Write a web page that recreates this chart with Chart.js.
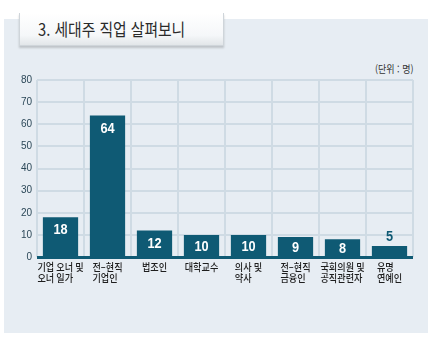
<!DOCTYPE html>
<html lang="ko">
<head>
<meta charset="utf-8">
<script src="https://cdn.jsdelivr.net/npm/chart.js@4.4.1/dist/chart.umd.min.js"></script>
<style>
  html, body { margin: 0; padding: 0; background: #fff; }
  body { width: 433px; height: 341px; position: relative; overflow: hidden; font-family: "Noto Sans CJK KR", sans-serif; }
  .panel { position: absolute; left: 4px; top: 19px; width: 424px; height: 314px; background: #e7edf3; }
  .tab {
    position: absolute; left: 19px; top: 13px; width: 203px; height: 32px;
    background: linear-gradient(#ffffff, #f5f7f9 70%, #e2e6e9);
    border: 1px solid #cfd5da; border-top: none;
    box-shadow: 0 2px 2px rgba(0,0,0,0.18);
  }
  .tab span {
    position: absolute; left: 18px; top: 3px; font-size: 17px; color: #2a2a2a;
    white-space: nowrap; transform: scaleX(0.87); transform-origin: left center;
  }
  .unit {
    position: absolute; left: 375px; top: 61px; font-size: 10px; color: #333;
    white-space: nowrap; transform: scaleX(0.9); transform-origin: left center;
  }
  #wrap { position: absolute; left: 0; top: 0; width: 433px; height: 341px; }
</style>
</head>
<body>
<div class="panel"></div>
<div class="tab"><span>3. 세대주 직업 살펴보니</span></div>
<div class="unit">(단위 : 명)</div>
<div id="wrap"><canvas id="chart"></canvas></div>
<script>
const jobLabels = [
  ['기업 오너 및', '오너 일가'],
  ['전–현직', '기업인'],
  ['법조인'],
  ['대학교수'],
  ['의사 및', '약사'],
  ['전–현직', '금융인'],
  ['국회의원 및', '공직관련자'],
  ['유명', '연예인']
];
const headCounts = [18, 64, 12, 10, 10, 9, 8, 5];
const yTicks = [0, 10, 20, 30, 40, 50, 60, 70, 80];

const barColor = '#0f5a74';

// 가로로 좁힌 글자 그리기
function narrowText(ctx, text, x, y, sx) {
  ctx.save();
  ctx.translate(x, y);
  ctx.scale(sx, 1);
  ctx.fillText(text, 0, 0);
  ctx.restore();
}

// 막대 값 표시 + 여러 줄 라벨 + 바닥선
const decorPlugin = {
  id: 'decor',
  afterDatasetsDraw(chart) {
    const ctx = chart.ctx;
    const area = chart.chartArea;
    const meta = chart.getDatasetMeta(0);
    ctx.save();
    ctx.fillStyle = barColor;
    ctx.fillRect(area.left, area.bottom - 1, area.right - area.left, 3);

    ctx.font = 'bold 15px "Liberation Sans", sans-serif';
    ctx.textAlign = 'center';
    ctx.textBaseline = 'middle';
    meta.data.forEach((bar, i) => {
      const v = headCounts[i];
      const h = bar.base - bar.y;
      if (h > 14) {
        ctx.fillStyle = '#ffffff';
        narrowText(ctx, v, bar.x, bar.y + Math.min(13, h / 2 + 1), 0.85);
      } else {
        ctx.fillStyle = barColor;
        narrowText(ctx, v, bar.x, bar.y - 9, 0.85);
      }
    });

    // x축 라벨: 블록은 가운데, 줄은 왼쪽 정렬
    const xs = chart.scales.x;
    const sx = 0.87;
    ctx.font = '500 10.5px "Noto Sans CJK KR", sans-serif';
    ctx.fillStyle = '#1e1e1e';
    ctx.textAlign = 'left';
    ctx.textBaseline = 'alphabetic';
    jobLabels.forEach((lines, i) => {
      const cx = xs.getPixelForTick(i);
      const w = Math.max(...lines.map(l => ctx.measureText(l).width)) * sx;
      lines.forEach((l, k) => {
        narrowText(ctx, l, cx - w / 2, area.bottom + 14 + k * 11, sx);
      });
    });
    ctx.restore();
  }
};

new Chart(document.getElementById('chart'), {
  type: 'bar',
  data: {
    labels: jobLabels,
    datasets: [{
      data: headCounts,
      backgroundColor: barColor,
      barPercentage: 0.75,
      categoryPercentage: 1.0
    }]
  },
  options: {
    responsive: true,
    maintainAspectRatio: false,
    animation: false,
    layout: { padding: { left: 0, top: 80, right: 20, bottom: 44 } },
    plugins: { legend: { display: false }, tooltip: { enabled: false } },
    scales: {
      x: {
        grid: { color: '#cfdbe4', lineWidth: 2, drawTicks: false, offset: true },
        border: { display: false },
        ticks: { color: 'transparent', font: { size: 11 } },
        afterFit(scale) { scale.height = 40; }
      },
      y: {
        min: 0,
        max: 80,
        afterBuildTicks(scale) { scale.ticks = yTicks.map(v => ({ value: v })); },
        grid: { color: '#cfdbe4', lineWidth: 2, drawTicks: false },
        border: { display: false },
        ticks: {
          color: '#2c4858',
          padding: 5,
          font: { family: '"Liberation Sans", sans-serif', size: 10 }
        },
        afterFit(scale) { scale.width = 37; }
      }
    }
  },
  plugins: [decorPlugin]
});
</script>
</body>
</html>
